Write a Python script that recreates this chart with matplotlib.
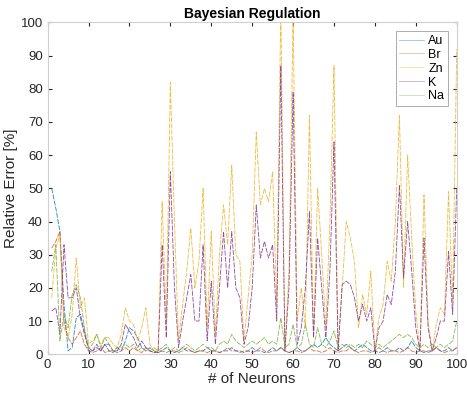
import numpy as np
import matplotlib
matplotlib.use("Agg")
import matplotlib.pyplot as plt

plt.rcParams['font.family'] = ['Liberation Sans', 'DejaVu Sans']

neurons = np.arange(1, 101)

au = [50, 44, 37, 15, 1, 2, 11, 12, 7, 1,
      1, 2, 1, 3, 1, 0.5, 2, 1, 4, 8,
      7, 5, 2, 1, 2, 1, 0.5, 1, 2, 1,
      0.5, 1, 2, 1, 1, 0.5, 1, 1, 2, 1,
      1, 0.5, 1, 1, 2, 1, 1, 0.5, 1, 2,
      1, 1, 0.5, 1, 2, 1, 2, 1, 0.5, 1,
      2, 1, 1, 2, 3, 2, 3, 5, 3, 2,
      1, 2, 3, 2, 1, 2, 3, 2, 1, 1,
      0.5, 1, 2, 1, 1, 2, 1, 2, 4, 2,
      1, 0.5, 1, 1, 2, 1, 1, 2, 1, 2]

br = [32, 34, 37, 10, 5, 3, 5, 7, 3, 1,
      0.5, 1, 2, 0.5, 1, 1, 0.5, 1, 2, 1,
      2, 1, 0.5, 2, 1, 0.5, 1, 1, 0.5, 1,
      1, 0.5, 1, 2, 1, 0.5, 1, 1, 0.5, 1,
      1, 0.5, 1, 2, 1, 1, 0.5, 1, 1, 0.5,
      1, 2, 1, 0.5, 1, 1, 2, 1, 0.5, 1,
      1, 0.5, 1, 2, 1, 1, 0.5, 1, 2, 1,
      0.5, 1, 1, 2, 1, 0.5, 1, 1, 0.5, 1,
      2, 1, 0.5, 1, 1, 0.5, 1, 2, 1, 0.5,
      1, 1, 0.5, 1, 2, 1, 0.5, 1, 1, 2]

zn = [17, 32, 36, 8, 5, 12, 29, 14, 17, 3,
      4, 6, 3, 5, 5, 3, 2, 6, 14, 10,
      9, 4, 8, 14, 3, 1, 1, 46, 10, 82,
      40, 4, 15, 25, 38, 20, 28, 50, 8, 37,
      6, 30, 45, 33, 57, 30, 28, 4, 17, 30,
      67, 45, 50, 46, 55, 15, 105, 2, 25, 102,
      10, 20, 8, 72, 5, 50, 30, 8, 40, 87,
      1, 20, 40, 35, 28, 8, 18, 12, 25, 1,
      11, 15, 28, 22, 40, 72, 20, 60, 35, 13,
      1, 48, 10, 1, 9, 14, 12, 49, 16, 92]

k = [13, 14, 6, 33, 17, 17, 20, 11, 6, 2,
     1, 3, 1, 3, 3, 1, 1, 3, 9, 7,
     5, 2, 4, 2, 1, 0.5, 0.5, 33, 5, 55,
     20, 2, 10, 17, 24, 10, 10, 33, 4, 22,
     3, 20, 37, 20, 37, 20, 17, 3, 8, 20,
     45, 29, 34, 29, 33, 10, 87, 1, 20, 79,
     3, 8, 20, 43, 5, 35, 20, 5, 25, 64,
     1, 21, 22, 21, 17, 10, 15, 10, 14, 1,
     8, 10, 18, 15, 25, 51, 23, 40, 25, 8,
     1, 35, 8, 1, 5, 10, 10, 31, 12, 50]

na = [25, 33, 4, 12, 8, 18, 21, 17, 8, 2,
      3, 6, 2, 5, 3, 1, 2, 2, 3, 2,
      3, 1, 2, 1, 1, 2, 1, 2, 3, 1,
      2, 1, 2, 3, 2, 1, 2, 3, 2, 2,
      1, 3, 4, 3, 6, 4, 3, 2, 3, 4,
      3, 4, 5, 3, 4, 3, 11, 2, 3, 9,
      2, 3, 9, 3, 2, 8, 3, 2, 4, 7,
      2, 3, 2, 3, 2, 3, 2, 4, 3, 2,
      3, 2, 3, 4, 5, 6, 5, 6, 5, 3,
      2, 3, 2, 3, 2, 3, 2, 3, 4, 10]

series = [("Au", au, "#0072BD"), ("Br", br, "#D95319"), ("Zn", zn, "#EDB120"),
          ("K", k, "#7E2F8E"), ("Na", na, "#77AC30")]

fig = plt.figure(figsize=(4.67, 3.94), dpi=100)
ax = fig.add_axes([0.102, 0.101, 0.876, 0.842])

for name, vals, col in series:
    ax.plot(neurons, vals, color=col, linewidth=0.6, linestyle=(0, (6, 1.5)),
            alpha=0.85, label=name)

ax.set_xlim(0, 100)
ax.set_ylim(0, 100)
ax.set_xticks(np.arange(0, 101, 10))
ax.set_yticks(np.arange(0, 101, 10))
ax.tick_params(direction='in', length=3, colors='#262626', labelsize=9.5,
               top=True, right=True, labeltop=False, labelright=False)
for sp in ax.spines.values():
    sp.set_color('#d0d0d0')
    sp.set_linewidth(0.8)

ax.set_title("Bayesian Regulation", fontsize=10, fontweight='bold', pad=3)
ax.set_xlabel("# of Neurons", fontsize=11, color='#262626', labelpad=1)
ax.set_ylabel("Relative Error [%]", fontsize=11, color='#262626', labelpad=2)

leg = ax.legend(loc='upper right', fontsize=9, handlelength=2.0,
                fancybox=False, framealpha=1, borderpad=0.3,
                labelspacing=0.15, handletextpad=0.3, borderaxespad=0.7)
leg.get_frame().set_edgecolor('#a0a0a0')
leg.get_frame().set_linewidth(0.6)
for line in leg.get_lines():
    line.set_linestyle('-')
    line.set_alpha(0.4)

fig.savefig("out.png", dpi=100)
